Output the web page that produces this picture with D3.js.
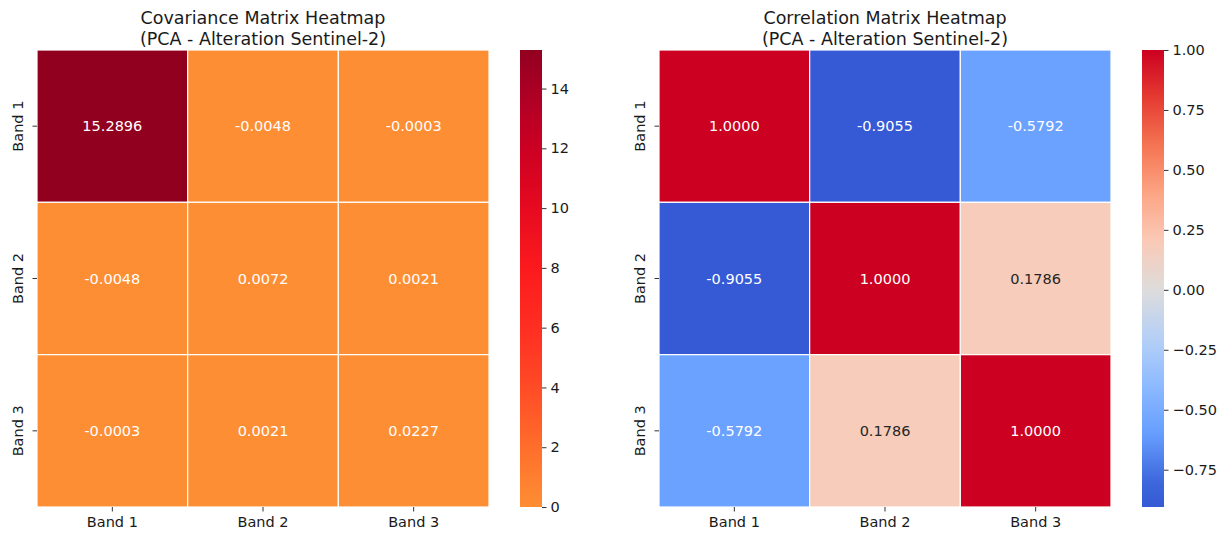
<!DOCTYPE html>
<html>
<head>
<meta charset="utf-8">
<script src="https://cdn.jsdelivr.net/npm/d3@7"></script>
<style>
  html, body { margin: 0; padding: 0; background: #fff; }
  svg { display: block; font-family: "DejaVu Sans", sans-serif; }
</style>
</head>
<body>
<svg id="chart" width="1228" height="535"></svg>
<script>
// ---- data ----
const bands = ["Band 1", "Band 2", "Band 3"];
const covValues = [
  [15.2896, -0.0048, -0.0003],
  [-0.0048, 0.0072, 0.0021],
  [-0.0003, 0.0021, 0.0227]
];
const corrValues = [
  [1.0, -0.9055, -0.5792],
  [-0.9055, 1.0, 0.1786],
  [-0.5792, 0.1786, 1.0]
];
const covTicks = [0, 2, 4, 6, 8, 10, 12, 14];
const corrTicks = [-0.75, -0.5, -0.25, 0, 0.25, 0.5, 0.75, 1.0];
const covTitle = ["Covariance Matrix Heatmap", "(PCA - Alteration Sentinel-2)"];
const corrTitle = ["Correlation Matrix Heatmap", "(PCA - Alteration Sentinel-2)"];

// ---- colour maps (style) ----
const covMax = 15.2896;
const covColor = d3.scaleLinear()
  .domain([0, 2, 4, 6, 8, 10, 12, 14, 15.2896])
  .range(["#fe8e33", "#ff6e2b", "#ff4b26", "#ff2e22", "#fb1a1d", "#e60a20", "#cc0023", "#a90024", "#920020"])
  .interpolate(d3.interpolateRgb).clamp(true);
const corrColor = d3.scaleLinear()
  .domain([-1, -0.8, -0.6, -0.4, -0.2, 0, 0.2, 0.4, 0.6, 0.8, 1])
  .range(["#2f4fcf", "#3d67dc", "#679eff", "#8dbaff", "#b6d0f6", "#dddcdc", "#facab7", "#fca585", "#f57553", "#e53b32", "#cc0020"])
  .interpolate(d3.interpolateRgb).clamp(true);

const svg = d3.select("#chart");

function luminance(c) {
  const r = d3.rgb(c);
  const lin = v => { v /= 255; return v <= 0.03928 ? v / 12.92 : Math.pow((v + 0.055) / 1.055, 2.4); };
  return 0.2126 * lin(r.r) + 0.7152 * lin(r.g) + 0.0722 * lin(r.b);
}

function heatmap(opts) {
  const { values, color, x0, x1, y0, y1, title, cbX, cbW, cbDomain, ticks, fmt } = opts;
  const g = svg.append("g");
  const x = d3.scaleBand().domain(bands).range([x0, x1]);
  const y = d3.scaleBand().domain(bands).range([y0, y1]);

  const cells = [];
  values.forEach((row, i) => row.forEach((v, j) => cells.push({ r: bands[i], c: bands[j], v })));

  g.selectAll("rect.cell").data(cells).enter().append("rect")
    .attr("class", "cell")
    .attr("x", d => x(d.c)).attr("y", d => y(d.r))
    .attr("width", x.bandwidth()).attr("height", y.bandwidth())
    .attr("fill", d => color(d.v))
    .attr("stroke", "#fff").attr("stroke-width", 1.2);

  g.selectAll("text.ann").data(cells).enter().append("text")
    .attr("class", "ann")
    .attr("x", d => x(d.c) + x.bandwidth() / 2)
    .attr("y", d => y(d.r) + y.bandwidth() / 2)
    .attr("text-anchor", "middle").attr("dominant-baseline", "central")
    .attr("font-size", 14.5)
    .attr("fill", d => luminance(color(d.v)) > 0.5 ? "#262626" : "#ffffff")
    .text(d => d.v.toFixed(4));

  // x axis
  const xAxis = d3.axisBottom(x).tickSize(4.5).tickPadding(5);
  const gx = g.append("g").attr("transform", `translate(0,${y1})`).call(xAxis);
  gx.select(".domain").remove();
  gx.selectAll("line").attr("stroke", "#333").attr("stroke-width", 1);
  gx.selectAll("text").attr("font-size", 14.5).attr("fill", "#1a1a1a").attr("font-family", "DejaVu Sans");

  // y axis
  const yAxis = d3.axisLeft(y).tickSize(4.5).tickPadding(0);
  const gy = g.append("g").attr("transform", `translate(${x0},0)`).call(yAxis);
  gy.select(".domain").remove();
  gy.selectAll("line").attr("stroke", "#333").attr("stroke-width", 1);
  gy.selectAll("text")
    .attr("font-size", 14.5).attr("fill", "#1a1a1a").attr("font-family", "DejaVu Sans")
    .attr("text-anchor", "middle").attr("dy", null).attr("x", null)
    .attr("dominant-baseline", "central")
    .attr("transform", "translate(-19,0) rotate(-90)");

  // title
  const cx = (x0 + x1) / 2;
  g.append("text").attr("x", cx).attr("y", 24).attr("text-anchor", "middle")
    .attr("font-size", 17.5).attr("fill", "#1a1a1a").text(title[0]);
  g.append("text").attr("x", cx).attr("y", 45).attr("text-anchor", "middle")
    .attr("font-size", 17.5).attr("fill", "#1a1a1a").text(title[1]);

  // colorbar
  const cbScale = d3.scaleLinear().domain(cbDomain).range([y1, y0]);
  const gid = "grad" + Math.round(cbX);
  const grad = svg.append("defs").append("linearGradient")
    .attr("id", gid).attr("x1", 0).attr("y1", 1).attr("x2", 0).attr("y2", 0);
  const n = 60;
  d3.range(n + 1).forEach(k => {
    const v = cbDomain[0] + (cbDomain[1] - cbDomain[0]) * k / n;
    grad.append("stop").attr("offset", k / n).attr("stop-color", color(v));
  });
  g.append("rect").attr("x", cbX).attr("y", y0).attr("width", cbW).attr("height", y1 - y0)
    .attr("fill", `url(#${gid})`);
  const cbAxis = d3.axisRight(cbScale).tickValues(ticks).tickSize(4.5).tickPadding(4).tickFormat(fmt);
  const gc = g.append("g").attr("transform", `translate(${cbX + cbW},0)`).call(cbAxis);
  gc.select(".domain").remove();
  gc.selectAll("line").attr("stroke", "#333").attr("stroke-width", 1);
  gc.selectAll("text").attr("font-size", 14.5).attr("fill", "#1a1a1a").attr("font-family", "DejaVu Sans");
}

heatmap({
  values: covValues, color: covColor,
  x0: 37, x1: 489, y0: 50, y1: 507,
  title: covTitle,
  cbX: 520, cbW: 22, cbDomain: [0, covMax], ticks: covTicks,
  fmt: d => d3.format("d")(d)
});

heatmap({
  values: corrValues, color: corrColor,
  x0: 659, x1: 1111, y0: 50, y1: 507,
  title: corrTitle,
  cbX: 1142, cbW: 22, cbDomain: [-0.9055, 1.0], ticks: corrTicks,
  fmt: d => d3.format(".2f")(d).replace("-", "\u2212")
});
</script>
</body>
</html>
